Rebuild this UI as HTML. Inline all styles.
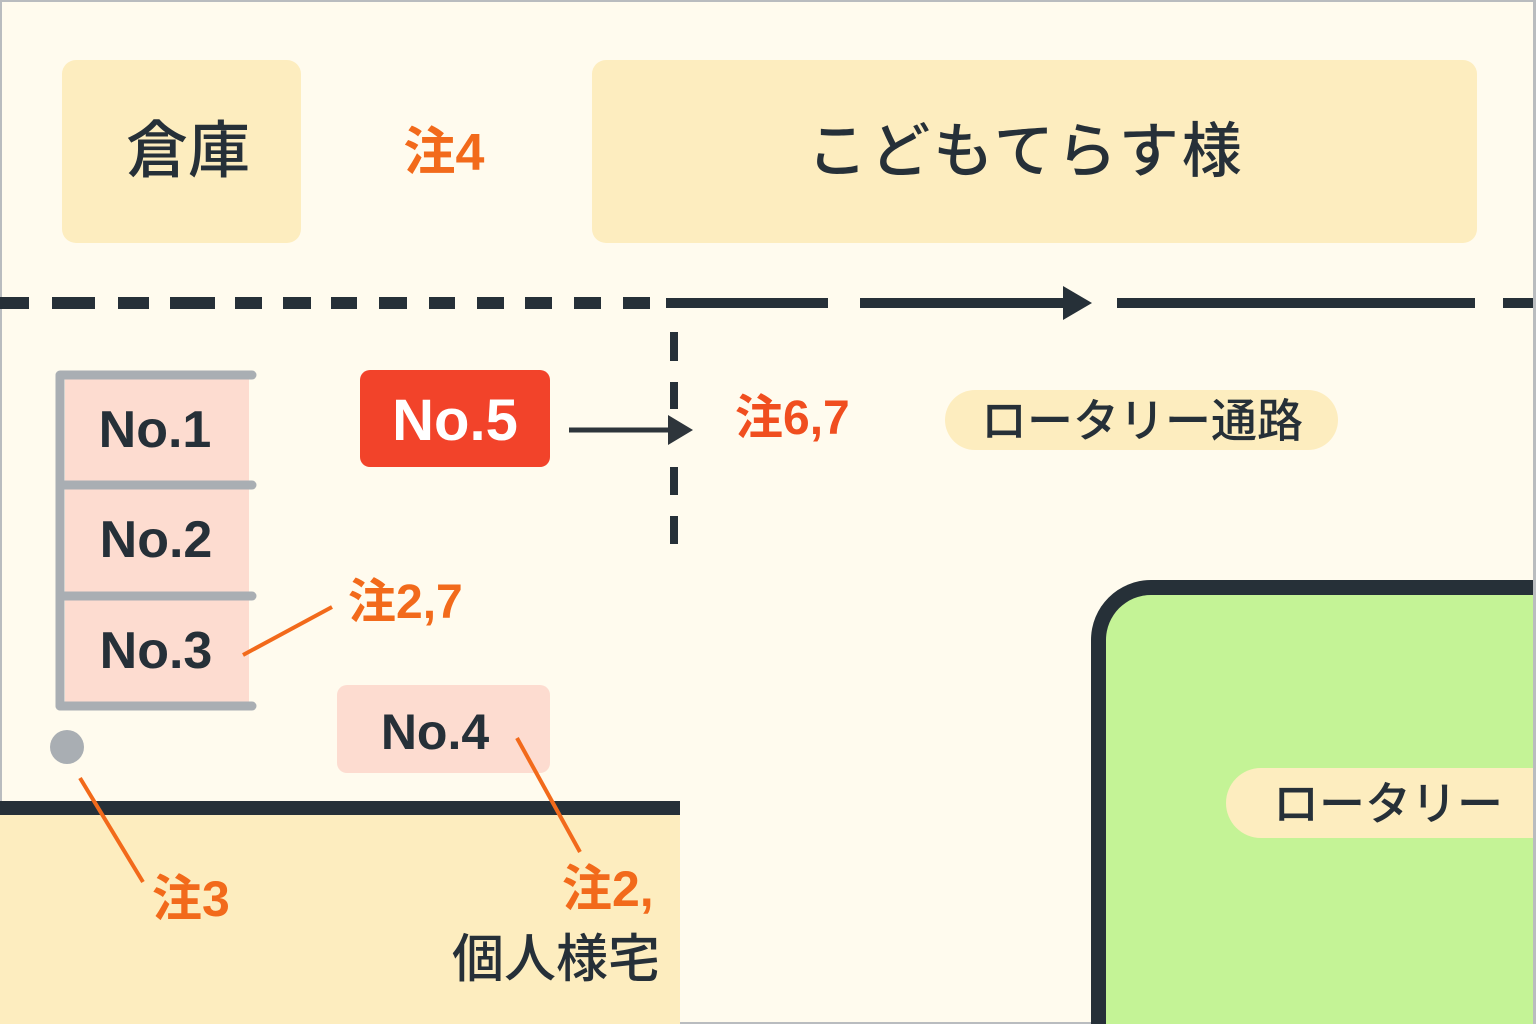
<!DOCTYPE html>
<html><head><meta charset="utf-8"><style>
html,body{margin:0;padding:0;background:#fffbee;width:1536px;height:1024px;overflow:hidden;}
svg{display:block;overflow:hidden;}
text{font-family:"Liberation Sans","Noto Sans CJK JP",sans-serif;}
</style></head><body>
<svg width="1536" height="1024" viewBox="0 0 1536 1024" xmlns="http://www.w3.org/2000/svg">
<rect x="0" y="0" width="1536" height="1024" fill="#fffbee"/>
<rect x="1" y="1" width="1534" height="1022" fill="none" stroke="#b9bcbf" stroke-width="2"/>

<rect x="62" y="60" width="239" height="183" rx="14" fill="#fdedbf"/>
<text x="188" y="172" font-size="62" font-weight="500" fill="#263038" text-anchor="middle" font-family="Noto Sans CJK JP">倉庫</text>
<text x="444" y="170" font-size="52" font-weight="700" fill="#f26a1b" text-anchor="middle" font-family="Noto Sans CJK JP">注4</text>
<rect x="592" y="60" width="885" height="183" rx="14" fill="#fdedbf"/>
<text x="1026" y="172" font-size="60" font-weight="500" fill="#263038" text-anchor="middle" letter-spacing="3" font-family="Noto Sans CJK JP">こどもてらす様</text>

<g fill="#263038">
<rect x="0" y="297" width="29" height="12"/>
<rect x="52" y="297" width="43" height="12"/>
<rect x="118" y="297" width="31" height="12"/>
<rect x="170" y="297" width="45" height="12"/>
<rect x="235" y="297" width="27" height="12"/>
<rect x="283" y="297" width="28" height="12"/>
<rect x="331" y="297" width="26" height="12"/>
<rect x="379" y="297" width="28" height="12"/>
<rect x="429" y="297" width="26" height="12"/>
<rect x="477" y="297" width="27" height="12"/>
<rect x="525" y="297" width="27" height="12"/>
<rect x="574" y="297" width="27" height="12"/>
<rect x="623" y="297" width="27" height="12"/>
<rect x="666" y="298" width="162" height="10"/>
<rect x="860" y="298" width="208" height="10"/>
<polygon points="1063,286 1092,303 1063,320"/>
<rect x="1117" y="298" width="358" height="10"/>
<rect x="1503" y="298" width="33" height="10"/>
<rect x="670" y="332" width="8" height="29"/>
<rect x="670" y="382" width="8" height="27"/>
<rect x="670" y="467" width="8" height="28"/>
<rect x="670" y="516" width="8" height="28"/>
</g>

<rect x="65" y="378" width="184" height="328" fill="#fddcd0"/>
<g stroke="#a9aeb3" stroke-width="9" stroke-linecap="round" fill="none">
<line x1="60" y1="376" x2="60" y2="706"/>
<line x1="60" y1="375" x2="252" y2="375"/>
<line x1="60" y1="485" x2="252" y2="485"/>
<line x1="60" y1="596" x2="252" y2="596"/>
<line x1="60" y1="706" x2="252" y2="706"/>
</g>
<g font-size="52" font-weight="700" fill="#263038" text-anchor="middle">
<text x="155" y="447">No.1</text>
<text x="156" y="557">No.2</text>
<text x="156" y="668">No.3</text>
</g>
<circle cx="67" cy="747" r="17" fill="#a9aeb3"/>

<rect x="360" y="370" width="190" height="97" rx="10" fill="#f2432a"/>
<text x="455" y="440" font-size="58" font-weight="700" fill="#ffffff" text-anchor="middle">No.5</text>
<line x1="569" y1="430" x2="672" y2="430" stroke="#2e353b" stroke-width="5"/>
<polygon points="668,415 693,430 668,445" fill="#2e353b"/>
<text x="735" y="434" font-size="48" font-weight="700" fill="#f04e1f" font-family="Noto Sans CJK JP">注6,7</text>

<rect x="945" y="390" width="393" height="60" rx="30" fill="#fdedbf"/>
<text x="1142" y="437" font-size="46" font-weight="500" fill="#263038" text-anchor="middle" font-family="Noto Sans CJK JP">ロータリー通路</text>

<text x="348" y="618" font-size="48" font-weight="700" fill="#f26a1b" font-family="Noto Sans CJK JP">注2,7</text>
<line x1="243" y1="655" x2="332" y2="607" stroke="#f26a1b" stroke-width="4"/>

<rect x="337" y="685" width="213" height="88" rx="10" fill="#fddcd0"/>
<text x="435" y="749" font-size="50" font-weight="700" fill="#263038" text-anchor="middle">No.4</text>

<rect x="0" y="815" width="680" height="209" fill="#fdedbf"/>
<rect x="0" y="801" width="680" height="14" fill="#263038"/>
<line x1="80" y1="778" x2="143" y2="882" stroke="#f26a1b" stroke-width="4"/>
<line x1="517" y1="738" x2="580" y2="852" stroke="#f26a1b" stroke-width="4"/>
<text x="152" y="916" font-size="50" font-weight="700" fill="#f26a1b" font-family="Noto Sans CJK JP">注3</text>
<text x="562" y="906" font-size="50" font-weight="700" fill="#f26a1b" font-family="Noto Sans CJK JP">注2,</text>
<text x="660" y="977" font-size="52" font-weight="500" fill="#263038" text-anchor="end" font-family="Noto Sans CJK JP">個人様宅</text>

<path d="M1091,1024 L1091,640 A60,60 0 0 1 1151,580 L1536,580 L1536,1024 Z" fill="#263038"/>
<path d="M1106,1024 L1106,640 A45,45 0 0 1 1151,595 L1536,595 L1536,1024 Z" fill="#c4f396"/>
<path d="M1261,768 L1536,768 L1536,838 L1261,838 A35,35 0 0 1 1261,768 Z" fill="#fdedbf"/>
<text x="1388" y="820" font-size="46" font-weight="500" fill="#263038" text-anchor="middle" font-family="Noto Sans CJK JP">ロータリー</text>
<rect x="1533" y="0" width="3" height="1024" fill="#b9bcbf"/>
</svg>
</body></html>
